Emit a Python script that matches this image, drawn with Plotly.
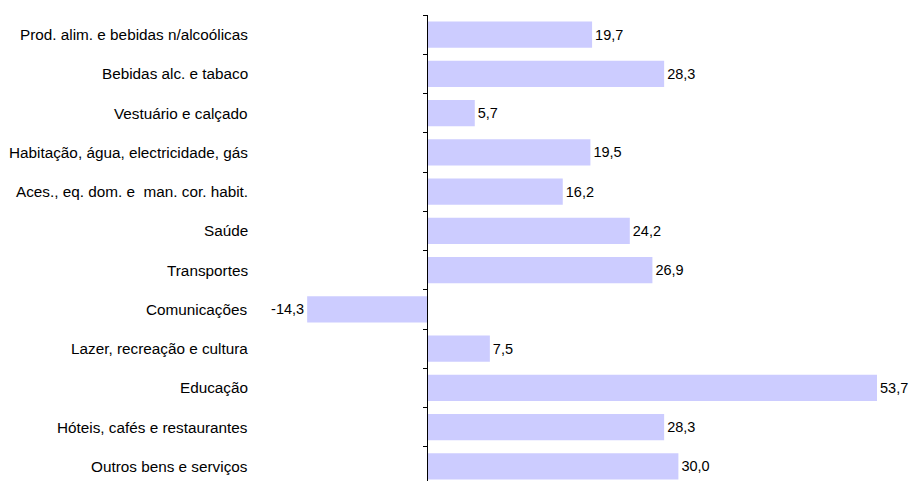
import plotly.graph_objects as go

# Variação (%) por classe de despesa
categories = [
    "Prod. alim. e bebidas n/alcoólicas",
    "Bebidas alc. e tabaco",
    "Vestuário e calçado",
    "Habitação, água, electricidade, gás",
    "Aces., eq. dom. e\u00a0 man. cor. habit.",
    "Saúde",
    "Transportes",
    "Comunicações",
    "Lazer, recreação e cultura",
    "Educação",
    "Hóteis, cafés e restaurantes",
    "Outros bens e serviços",
]
values = [19.7, 28.3, 5.7, 19.5, 16.2, 24.2, 26.9, -14.3, 7.5, 53.7, 28.3, 30.0]

W, H = 918, 481
M_L, M_R, M_T, M_B = 252, 0, 15, 0
PX_PER_UNIT = 8.38      # horizontal scale
ZERO_PX = 427           # where the value axis crosses zero
ROW_PX = 39.25          # height of one category band

plot_w = W - M_L - M_R
plot_h = H - M_T - M_B
x_min = -(ZERO_PX - M_L) / PX_PER_UNIT
x_max = x_min + plot_w / PX_PER_UNIT
y_bottom = -0.5 + plot_h / ROW_PX

FONT = "Liberation Sans, Arial, sans-serif"

fig = go.Figure(
    go.Bar(
        x=values,
        y=categories,
        orientation="h",
        marker=dict(color="#ccccff", line=dict(width=0)),
        texttemplate="%{x:.1f}",
        textposition="outside",
        constraintext="none",
        cliponaxis=False,
        textfont=dict(family=FONT, size=14.5, color="#000000"),
        hoverinfo="skip",
    )
)

# category names set to the left of the plotting area
for cat in categories:
    fig.add_annotation(
        x=0, xref="paper", y=cat, yref="y",
        text=cat, showarrow=False, xanchor="right", xshift=-2,
        font=dict(family=FONT, size=15.3, color="#000000"),
    )

fig.update_layout(
    width=W, height=H,
    margin=dict(l=M_L, r=M_R, t=M_T, b=M_B, pad=0),
    paper_bgcolor="white", plot_bgcolor="white",
    separators=",.",
    bargap=0.33,
    showlegend=False,
    xaxis=dict(visible=False, range=[x_min, x_max], fixedrange=True),
    yaxis=dict(
        type="category",
        categoryorder="array", categoryarray=categories,
        range=[y_bottom, -0.5],
        anchor="free",
        position=(0 - x_min) / (x_max - x_min),
        showline=True, linecolor="#000000", linewidth=1,
        ticks="outside", ticklen=4, tickcolor="#000000", tickwidth=1,
        tickson="boundaries",
        showticklabels=False, showgrid=False, zeroline=False,
        fixedrange=True,
    ),
)

fig.write_html("out.html")
